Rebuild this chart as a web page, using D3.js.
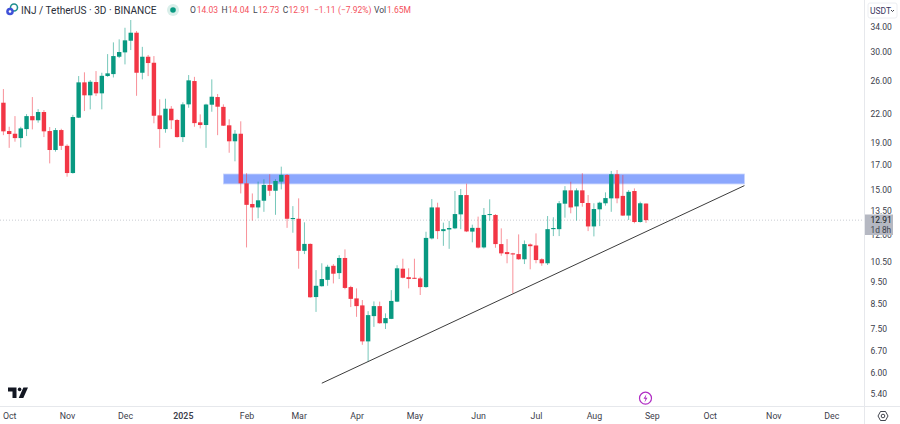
<!DOCTYPE html>
<html>
<head>
<meta charset="utf-8">
<script src="https://cdnjs.cloudflare.com/ajax/libs/d3/7.8.5/d3.min.js"></script>
<style>
  html, body { margin: 0; padding: 0; background: #fff; }
  svg { display: block; font-family: Roboto, sans-serif; }
</style>
</head>
<body>
<div id="chart"></div>
<script>
/* 3D candles, oldest first */
const open = [23.26,20.18,19.91,19.48,20.38,21.75,21.30,22.20,20.18,18.35,20.28,18.74,16.35,21.58,25.76,24.14,25.80,24.38,26.59,26.85,
  29.29,29.94,31.74,33.04,27.03,29.29,28.42,21.83,20.38,22.57,21.33,19.58,23.07,25.93,21.08,20.80,23.03,23.93,22.78,20.77,
  19.17,19.91,15.53,14.00,13.76,14.23,15.40,14.96,15.66,16.19,12.98,13.00,11.07,11.46,8.78,9.27,9.57,10.27,9.90,10.68,
  9.23,8.72,8.42,7.03,7.98,8.39,7.70,7.87,8.58,10.12,9.70,9.67,9.64,9.23,11.78,13.76,12.22,12.32,12.39,13.29,
  14.64,12.19,12.42,11.26,13.25,13.25,11.45,11.00,10.93,10.89,10.61,11.43,11.37,10.61,10.40,12.34,12.34,14.02,14.99,13.83,
  14.99,14.07,12.51,13.63,14.05,14.40,16.25,14.58,13.21,14.94,12.79,14.03];
const high = [24.91,20.62,21.75,20.62,21.97,23.93,22.53,22.42,20.59,20.49,20.41,18.88,21.89,26.59,27.09,26.06,27.26,27.03,29.68,31.48,
  31.96,33.87,35.21,33.32,30.78,29.55,29.39,23.66,23.73,22.87,21.44,23.31,26.72,26.48,21.94,23.14,26.15,24.30,23.07,21.41,
  20.28,21.19,16.33,14.76,15.66,15.85,16.25,15.85,16.88,16.27,13.85,14.40,12.77,11.49,10.05,10.40,10.32,10.36,10.83,11.15,
  9.29,9.17,8.65,8.18,8.59,8.58,8.09,9.09,10.30,10.64,10.14,10.64,9.72,12.18,14.35,14.09,12.75,12.86,14.94,15.09,
  15.50,12.62,13.14,13.72,14.33,13.31,12.39,11.74,10.96,12.02,11.66,11.49,12.08,10.66,13.18,13.10,14.21,15.31,15.65,15.14,
  16.33,14.64,14.05,14.16,14.84,16.52,16.60,16.19,15.01,15.14,14.16,14.04];
const low = [19.77,18.55,19.13,18.59,19.68,20.35,21.04,19.58,17.16,18.20,18.35,16.05,16.30,21.54,22.31,22.50,24.05,22.50,26.48,26.40,
  29.10,28.19,30.29,24.08,26.15,26.58,20.98,18.55,20.01,20.38,19.53,19.10,22.68,20.62,20.45,18.55,22.23,19.77,20.70,18.10,
  17.34,14.76,11.26,12.88,13.03,13.46,14.58,13.26,15.06,12.42,12.12,10.12,10.89,8.75,8.15,9.25,9.29,9.40,9.61,9.13,
  8.35,7.95,6.91,6.35,7.56,7.68,7.48,7.86,8.56,9.64,9.17,9.61,8.87,9.20,11.72,11.74,11.35,11.18,12.34,12.34,
  12.16,11.55,11.20,11.20,12.88,11.24,10.80,10.40,8.95,10.58,10.36,10.09,10.40,10.27,10.31,11.92,11.92,13.07,13.36,12.88,
  13.81,12.22,11.90,12.53,13.88,13.46,14.05,13.18,12.92,12.71,12.75,12.73];
const close = [20.15,19.88,19.48,20.45,21.75,21.30,22.20,20.15,18.35,20.28,18.74,16.35,21.65,25.76,24.14,25.84,24.38,26.62,26.95,29.39,
  29.99,31.80,33.04,27.03,29.29,28.38,21.79,20.38,22.57,21.30,19.58,23.07,26.02,21.00,20.80,23.05,23.97,22.80,20.73,19.17,
  19.91,15.53,13.94,13.76,14.26,15.40,14.96,15.71,16.20,13.00,13.05,11.07,11.46,8.77,9.29,9.61,10.22,9.87,10.68,9.19,
  8.70,8.39,7.03,8.02,8.39,7.70,7.90,8.61,10.14,9.67,9.61,9.62,9.23,11.81,13.76,12.22,12.34,12.41,13.31,14.64,
  12.20,12.42,11.25,13.25,13.31,11.45,10.93,10.89,10.87,10.61,11.45,11.33,10.57,10.40,12.34,12.41,14.05,14.99,13.76,14.99,
  14.07,12.51,13.65,14.09,14.42,16.25,14.40,13.21,14.88,12.79,14.05,12.91];

const priceTicks = [34, 30, 26, 22, 19, 17, 15, 13.5, 12, 10.5, 9.5, 8.5, 7.5, 6.7, 6, 5.4];
const timeTickBars = [1, 11, 21, 31, 42, 51, 61, 71, 82, 92, 102, 112, 122, 133, 143];
const timeTickLabels = ["Oct","Nov","Dec","2025","Feb","Mar","Apr","May","Jun","Jul","Aug","Sep","Oct","Nov","Dec"];
const lastPrice = 12.91;
const zoneBars = [38, 128], zonePrices = [16.27, 15.48];
const trendBars = [55, 128], trendPrices = [5.70, 15.35];
const legendLabels = ["O", "14.03", "H", "14.04", "L", "12.73", "C", "12.91", "−1.11", "(−7.92%)", "Vol", "1.65M"];
const legendLeft = [190, 196.7, 221.5, 228, 253, 258, 282.7, 288.5, 314, 338, 374, 387];

const width = 900, height = 424;
const plotRight = 864.5, plotBottom = 406.5;
const up = "#089981", down = "#f23645";

const x = d3.scaleLinear().domain([0, 111]).range([3.4, 646]);
const y = d3.scaleLog().domain([34, 5.4]).range([27, 394]);

const svg = d3.select("#chart").append("svg")
  .attr("width", width)
  .attr("height", height);

/* zone sits behind the candles */
svg.append("rect")
  .attr("x", x(zoneBars[0]))
  .attr("y", y(zonePrices[0]))
  .attr("width", x(zoneBars[1]) - x(zoneBars[0]))
  .attr("height", y(zonePrices[1]) - y(zonePrices[0]))
  .attr("fill", "#8ba7fd")
  .attr("stroke", "#c6d3fd")
  .attr("stroke-width", 0.8);

/* last price line */
svg.append("line")
  .attr("x1", 0).attr("x2", plotRight)
  .attr("y1", y(lastPrice)).attr("y2", y(lastPrice))
  .attr("stroke", "#c9ccd2")
  .attr("stroke-dasharray", "1 2");

/* candles */
const candles = svg.append("g").selectAll("g")
  .data(d3.range(open.length))
  .join("g");

candles.append("line")
  .attr("x1", i => x(i)).attr("x2", i => x(i))
  .attr("y1", i => y(high[i])).attr("y2", i => y(low[i]))
  .attr("stroke", i => close[i] >= open[i] ? up : down)
  .attr("stroke-opacity", 0.55);

candles.append("rect")
  .attr("x", i => x(i) - 2.2)
  .attr("width", 4.4)
  .attr("y", i => y(Math.max(open[i], close[i])))
  .attr("height", i => Math.max(1, Math.abs(y(open[i]) - y(close[i]))))
  .attr("fill", i => close[i] >= open[i] ? up : down);

/* trend line */
svg.append("line")
  .attr("x1", x(trendBars[0])).attr("y1", y(trendPrices[0]))
  .attr("x2", x(trendBars[1])).attr("y2", y(trendPrices[1]))
  .attr("stroke", "#3c3c3c")
  .attr("stroke-width", 1);

/* axes */
svg.append("line").attr("x1", plotRight).attr("x2", plotRight).attr("y1", 0).attr("y2", height).attr("stroke", "#e6e8ec");
svg.append("line").attr("x1", 0).attr("x2", width).attr("y1", plotBottom).attr("y2", plotBottom).attr("stroke", "#e6e8ec");

const priceAxis = d3.axisRight(y).tickValues(priceTicks).tickSize(0).tickPadding(0).tickFormat(d3.format(".2f"));
const priceG = svg.append("g").attr("transform", "translate(870.5,0)").call(priceAxis);
priceG.select(".domain").remove();
priceG.selectAll("text").attr("font-size", 8.5).attr("font-family", "Roboto, sans-serif").attr("fill", "#3c404b");

const timeAxis = d3.axisBottom(x).tickValues(timeTickBars).tickSize(0).tickPadding(0)
  .tickFormat((d, i) => timeTickLabels[i]);
const timeG = svg.append("g").attr("transform", "translate(0,412.5)").call(timeAxis);
timeG.select(".domain").remove();
timeG.selectAll("text").attr("font-size", 8.8).attr("font-family", "Roboto, sans-serif").attr("fill", "#3c404b")
  .attr("font-weight", (d, i) => timeTickLabels[i] === "2025" ? 600 : 400);

/* last price tag, covers the 12.00 tick like the reference */
svg.append("rect").attr("x", 865).attr("y", 214.5).attr("width", 28).attr("height", 20.5).attr("fill", "#b5b8c2");
svg.append("text").attr("x", 870.5).attr("y", 223).attr("font-size", 8.5).attr("fill", "#131722").text("12.91");
svg.append("text").attr("x", 870.5).attr("y", 232.5).attr("font-size", 8.3).attr("fill", "#3c404b").text("1d 8h");

/* currency button */
svg.append("rect").attr("x", 868).attr("y", 3).attr("width", 29).attr("height", 15).attr("rx", 2)
  .attr("fill", "#fff").attr("stroke", "#eceef2");
svg.append("text").attr("x", 870).attr("y", 13.5).attr("font-size", 8.5).attr("fill", "#3a3560").text("USDT");
svg.append("path").attr("d", "M891 10l1.5 1.5l1.5-1.5").attr("fill", "none").attr("stroke", "#131722").attr("stroke-width", 0.8);

/* settings button */
svg.append("path").attr("d", "M878 416l2.5-4.5h5l2.5 4.5l-2.5 4.5h-5z").attr("fill", "none").attr("stroke", "#131722").attr("stroke-width", 0.8);
svg.append("circle").attr("cx", 883).attr("cy", 416).attr("r", 1.8).attr("fill", "none").attr("stroke", "#131722").attr("stroke-width", 0.8);

/* legend */
svg.append("circle").attr("cx", 14).attr("cy", 7.5).attr("r", 3.5).attr("fill", "none").attr("stroke", "#1f8f8f").attr("stroke-width", 1.6);
svg.append("circle").attr("cx", 10).attr("cy", 11.5).attr("r", 3.8).attr("fill", "#3f51d8");
svg.append("circle").attr("cx", 10).attr("cy", 11.5).attr("r", 1.3).attr("fill", "#fff");
svg.append("text").attr("x", 21).attr("y", 13.7).attr("font-size", 10.1).attr("fill", "#2a2e39").text("INJ / TetherUS · 3D · BINANCE");
svg.append("circle").attr("cx", 173).attr("cy", 10).attr("r", 6).attr("fill", "#d9efea");
svg.append("circle").attr("cx", 173).attr("cy", 10).attr("r", 2.8).attr("fill", up);
svg.append("g").selectAll("text")
  .data(legendLabels)
  .join("text")
  .attr("x", (d, i) => legendLeft[i])
  .attr("y", 13)
  .attr("font-size", 8.5)
  .attr("fill", d => ["O", "H", "L", "C", "Vol"].includes(d) ? "#434651" : "#f4515d")
  .text(d => d);

/* TV logo */
svg.append("path").attr("d", "M8 387.5h8.5v10.5h-4v-6.5h-4.5zM28 387.5l-4.7 10.5h-4.6l4.7-10.5z").attr("fill", "#131722");
svg.append("circle").attr("cx", 19.6).attr("cy", 389.4).attr("r", 1.8).attr("fill", "#131722");

/* lightning badge */
svg.append("circle").attr("cx", 645.5).attr("cy", 398.2).attr("r", 6).attr("fill", "#fff").attr("stroke", "#b02dc4").attr("stroke-width", 1.2);
svg.append("path").attr("d", "M646.5 394l-3 4.8h2l-1 3.7l3-4.8h-2z").attr("fill", "#b02dc4");
</script>
</body>
</html>
